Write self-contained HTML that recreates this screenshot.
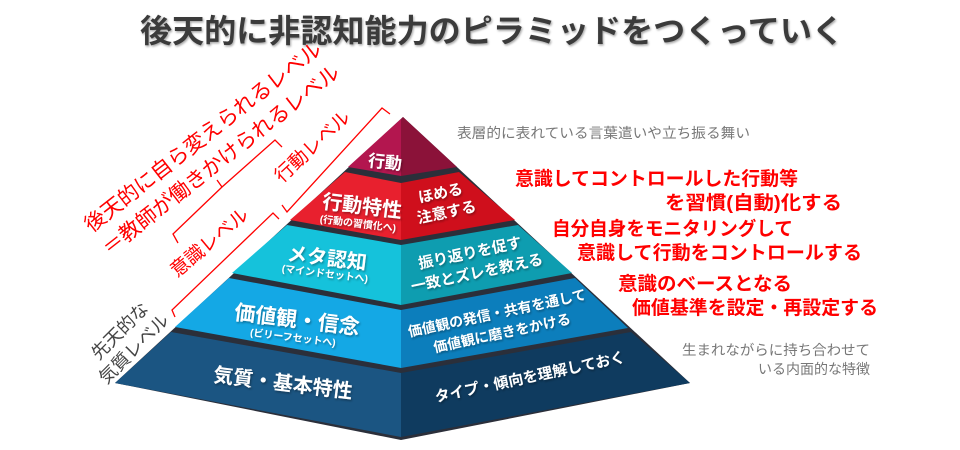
<!DOCTYPE html>
<html><head><meta charset="utf-8"><style>
html,body{margin:0;padding:0;background:#fff;}
svg{display:block;}
text{font-family:"Liberation Sans","Noto Sans CJK JP",sans-serif;}
</style></head><body>
<svg width="960" height="450" viewBox="0 0 960 450" xmlns="http://www.w3.org/2000/svg">
<defs>
<filter id="sh" x="-5%" y="-20%" width="110%" height="140%"><feDropShadow dx="1" dy="1.5" stdDeviation="1" flood-color="#000" flood-opacity="0.35"/></filter>
</defs>
<text x="492" y="42" font-size="32" font-weight="bold" fill="#3a3a3a" text-anchor="middle" textLength="704" lengthAdjust="spacingAndGlyphs" filter="url(#sh)">後天的に非認知能力のピラミッドをつくっていく</text>

<polygon points="403,117 690,383 401,440 115,383" fill="#2b2f3a"/>
<polygon points="403,117 401,120 401,176 348,167" fill="#b3164f"/>
<polygon points="403,117 457,167 401,176 401,120" fill="#8b1239"/>
<polygon points="345,172 401,183 401,240 290,220" fill="#e8202e"/>
<polygon points="401,183 459,172 515,220 401,240" fill="#cf0f1c"/>
<polygon points="287,225 401,245 401,305 232,273" fill="#15c2db"/>
<polygon points="401,245 518,225 572,273 401,305" fill="#0e9db0"/>
<polygon points="229,278 401,310 401,368 175,327" fill="#14a8e5"/>
<polygon points="401,310 575,278 628,328 401,368" fill="#0c7ebc"/>
<polygon points="171,332 401,373 401,437 115,383" fill="#1b5582"/>
<polygon points="401,373 631,332 690,383 401,437" fill="#0f3b5f"/>

<g fill="#fff" font-weight="bold" text-anchor="middle" filter="url(#sh)">
<text x="385" y="168" font-size="17" transform="rotate(6 385 162)">行動</text>
<text x="362" y="213" font-size="20" transform="rotate(7 362 207)">行動特性</text>
<text x="358" y="227" font-size="10" transform="rotate(7 358 223)">(行動の習慣化へ)</text>
<text x="443" y="198" font-size="15" transform="rotate(-12 443 205)">ほめる</text>
<text x="445" y="218" font-size="15" transform="rotate(-12 443 205)">注意する</text>
<text x="327" y="265" font-size="20" transform="rotate(7 327 258)">メタ認知</text>
<text x="325" y="277" font-size="10" transform="rotate(7 325 273)">(マインドセットへ)</text>
<text x="470" y="258" font-size="15" transform="rotate(-12 470 253)">振り返りを促す</text>
<text x="477" y="278" font-size="15" transform="rotate(-12 477 273)">一致とズレを教える</text>
<text x="297" y="327" font-size="21" transform="rotate(7 297 320)">価値観・信念</text>
<text x="293" y="341" font-size="10" transform="rotate(7 293 337)">(ビリーフセットへ)</text>
<text x="497" y="318" font-size="14" transform="rotate(-12 497 313)">価値観の発信・共有を通して</text>
<text x="502" y="338" font-size="14" transform="rotate(-12 502 333)">価値観に磨きをかける</text>
<text x="283" y="390" font-size="20" transform="rotate(7 283 383)">気質・基本特性</text>
<text x="530" y="382" font-size="15" transform="rotate(-12 530 377)">タイプ・傾向を理解しておく</text>
</g>

<g font-size="14" fill="#777">
<text x="457" y="138" textLength="293" lengthAdjust="spacingAndGlyphs">表層的に表れている言葉遣いや立ち振る舞い</text>
<text x="682" y="355" textLength="188" lengthAdjust="spacingAndGlyphs">生まれながらに持ち合わせて</text>
<text x="870" y="374" text-anchor="end">いる内面的な特徴</text>
</g>
<g font-size="19" font-weight="bold" fill="#f00">
<text x="515" y="185" textLength="283" lengthAdjust="spacingAndGlyphs">意識してコントロールした行動等</text>
<text x="665" y="209" textLength="177" lengthAdjust="spacingAndGlyphs">を習慣(自動)化する</text>
<text x="552" y="235" textLength="241" lengthAdjust="spacingAndGlyphs">自分自身をモニタリングして</text>
<text x="577" y="259" textLength="285" lengthAdjust="spacingAndGlyphs">意識して行動をコントロールする</text>
<text x="618" y="290" textLength="174" lengthAdjust="spacingAndGlyphs">意識のベースとなる</text>
<text x="632" y="314" textLength="246" lengthAdjust="spacingAndGlyphs">価値基準を設定・再設定する</text>
</g>

<g fill="none" stroke="#f00" stroke-width="1.3">
<polyline points="282,205 287,212 382,108 390,114"/>
<polyline points="175,317 172,310 273,213 279,219"/>
<polyline points="178,243 173,234 222,187 217,180 222,187 275,140 282,147"/>
</g>

<g fill="#f00" text-anchor="middle">
<text x="203" y="144" font-size="21" transform="rotate(-38 203 137)">後天的に自ら変えられるレベル</text>
<text x="221" y="167" font-size="21" transform="rotate(-38 221 160)">＝教師が働きかけられるレベル</text>
<text x="312" y="153" font-size="19" transform="rotate(-43 312 146)">行動レベル</text>
<text x="209" y="249" font-size="19" transform="rotate(-40 209 242)">意識レベル</text>
</g>
<g fill="#444" text-anchor="middle" font-size="18">
<text x="120" y="337" transform="rotate(-45 120 331)">先天的な</text>
<text x="134" y="355" transform="rotate(-45 134 349)">気質レベル</text>
</g>
</svg>
</body></html>
